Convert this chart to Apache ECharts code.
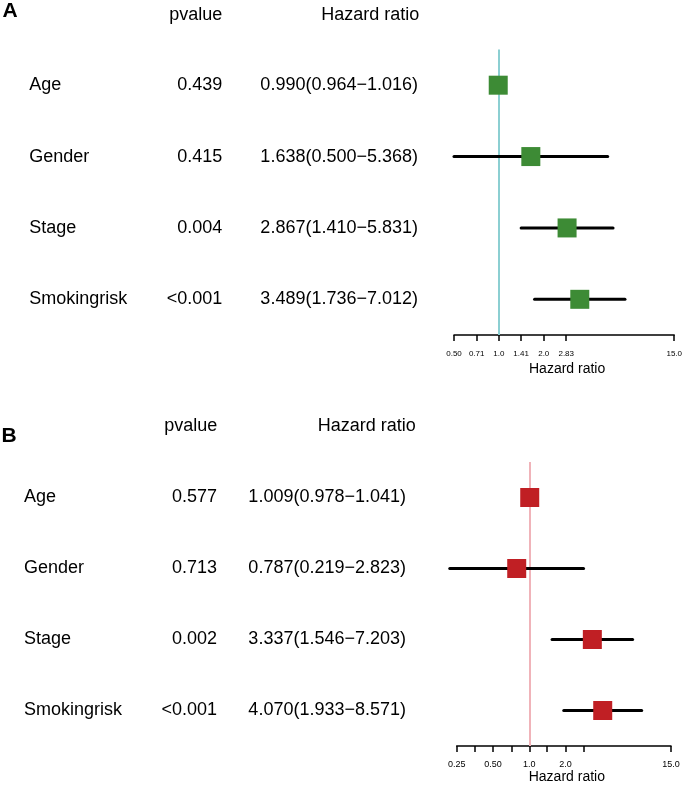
<!DOCTYPE html>
<html>
<head>
<meta charset="utf-8">
<script src="https://cdn.jsdelivr.net/npm/echarts@6/dist/echarts.min.js"></script>
<style>
html,body{margin:0;padding:0;background:#fff;}
#chart{width:685px;height:785px;}
</style>
</head>
<body>
<div id="chart"></div>
<script>
// ---- Data ----
const variables = ['Age', 'Gender', 'Stage', 'Smokingrisk'];

const pvalueA = ['0.439', '0.415', '0.004', '<0.001'];
const hrA     = [0.990, 1.638, 2.867, 3.489];
const lowerA  = [0.964, 0.500, 1.410, 1.736];
const upperA  = [1.016, 5.368, 5.831, 7.012];

const pvalueB = ['0.577', '0.713', '0.002', '<0.001'];
const hrB     = [1.009, 0.787, 3.337, 4.070];
const lowerB  = [0.978, 0.219, 1.546, 1.933];
const upperB  = [1.041, 2.823, 7.203, 8.571];

const tickValuesA  = [0.5, 0.71, 1, 1.41, 2, 2.83, 15];
const tickLabelsA  = ['0.50', '0.71', '1.0', '1.41', '2.0', '2.83', '15.0'];
const labelValuesA = [0.5, 0.71, 1, 1.41, 2, 2.83, 15];

const tickValuesB  = [0.25, 0.35, 0.5, 0.71, 1, 1.41, 2, 2.83, 15];
const labelValuesB = [0.25, 0.5, 1, 2, 15];
const tickLabelsB  = ['0.25', '0.50', '1.0', '2.0', '15.0'];

// ---- Helpers ----
const FONT = 'Liberation Sans, Arial, sans-serif';
const fmt3 = v => v.toFixed(3);
const hrText = (hr, lo, hi) => hr.map((h, i) => fmt3(h) + '(' + fmt3(lo[i]) + '\u2212' + fmt3(hi[i]) + ')');

function labelFormatter(values, labels) {
  return function (v) {
    let best = 0, d = Infinity;
    values.forEach((t, i) => { const dd = Math.abs(Math.log(t) - Math.log(v)); if (dd < d) { d = dd; best = i; } });
    return labels[best];
  };
}

const chart = echarts.init(document.getElementById('chart'), null, {renderer: 'canvas'});

const panels = [
  {
    grid: {left: 454, right: 9.5, top: 49.5, height: 285.5},
    min: 0.5, max: 15,
    ticks: tickValuesA, labelVals: labelValuesA, labels: tickLabelsA, tickFont: 8,
    hr: hrA, lo: lowerA, hi: upperA, p: pvalueA,
    nameX: 29.3, pRight: 222.3, hrRight: 418,
    color: '#3d8b35', refColor: '#8ccfd2',
    labelMargin: 15, nameGap: 27
  },
  {
    grid: {left: 456.7, right: 14, top: 462, height: 287.5},
    min: 0.25, max: 15,
    ticks: tickValuesB, labelVals: labelValuesB, labels: tickLabelsB, tickFont: 9,
    hr: hrB, lo: lowerB, hi: upperB, p: pvalueB,
    nameX: 24, pRight: 217, hrRight: 406,
    color: '#c01f24', refColor: '#f0b3b9',
    labelMargin: 14, nameGap: 24
  }
];

const grids = [], xAxes = [], yAxes = [], series = [];

panels.forEach((P, g) => {
  grids.push(Object.assign({containLabel: false}, P.grid));
  xAxes.push({
    gridIndex: g, type: 'log', logBase: 2, min: P.min, max: P.max,
    axisLine: {show: true, onZero: false, lineStyle: {color: '#000', width: 1.5}},
    axisTick: {show: true, customValues: P.ticks, length: 6, lineStyle: {color: '#000', width: 1.5}},
    axisLabel: {show: true, customValues: P.labelVals, formatter: labelFormatter(P.labelVals, P.labels),
      fontSize: P.tickFont, color: '#000', fontFamily: FONT, margin: P.labelMargin, hideOverlap: false},
    splitLine: {show: false},
    minorTick: {show: false},
    name: 'Hazard ratio', nameLocation: 'middle', nameGap: P.nameGap,
    nameTextStyle: {fontSize: 14, color: '#000', fontFamily: FONT, padding: [0, 0, 0, 6]}
  });
  const base = yAxes.length;
  const hidden = {axisLine: {show: false}, axisTick: {show: false}, splitLine: {show: false}};
  // main y axis (for marks)
  yAxes.push(Object.assign({gridIndex: g, type: 'category', data: variables, inverse: true,
    axisLabel: {show: false}}, hidden));
  // variable names column
  yAxes.push(Object.assign({gridIndex: g, type: 'category', data: variables, inverse: true, position: 'left',
    axisLabel: {show: true, interval: 0, align: 'left', margin: P.grid.left - P.nameX,
      fontSize: 18, color: '#000', fontFamily: FONT}}, hidden));
  // p-value column
  yAxes.push(Object.assign({gridIndex: g, type: 'category', data: P.p, inverse: true, position: 'left',
    axisLabel: {show: true, interval: 0, align: 'right', margin: P.grid.left - P.pRight,
      fontSize: 18, color: '#000', fontFamily: FONT}}, hidden));
  // hazard ratio column
  yAxes.push(Object.assign({gridIndex: g, type: 'category', data: hrText(P.hr, P.lo, P.hi), inverse: true, position: 'left',
    axisLabel: {show: true, interval: 0, align: 'right', margin: P.grid.left - P.hrRight,
      fontSize: 18, color: '#000', fontFamily: FONT}}, hidden));

  // reference line at HR = 1 (drawn beneath the marks)
  series.push({
    type: 'line', xAxisIndex: g, yAxisIndex: base, data: [], z: 1, silent: true,
    markLine: {silent: true, z: 1, symbol: 'none', label: {show: false},
      lineStyle: {color: P.refColor, width: 2, type: 'solid'}, data: [{xAxis: 1}]}
  });
  // confidence intervals
  series.push({
    type: 'custom', xAxisIndex: g, yAxisIndex: base, z: 2, silent: true, clip: false,
    encode: {x: [0, 1], y: 2},
    data: variables.map((v, i) => [P.lo[i], P.hi[i], i]),
    renderItem: function (params, api) {
      const a = api.coord([api.value(0), api.value(2)]);
      const b = api.coord([api.value(1), api.value(2)]);
      return {type: 'line', shape: {x1: a[0], y1: a[1], x2: b[0], y2: b[1]},
        style: {stroke: '#000', lineWidth: 3, lineCap: 'round'}};
    }
  });
  // point estimates
  series.push({
    type: 'scatter', xAxisIndex: g, yAxisIndex: base, z: 3, silent: true,
    symbol: 'rect', symbolSize: 19,
    itemStyle: {color: P.color, opacity: 1},
    data: variables.map((v, i) => [P.hr[i], i])
  });
});

const headerStyle = (text, x, y) => ({type: 'text', x: x, y: y,
  style: {text: text, font: '18px ' + FONT, fill: '#000', textAlign: 'right', textVerticalAlign: 'middle'}});

const option = {
  animation: false,
  backgroundColor: '#fff',
  grid: grids,
  xAxis: xAxes,
  yAxis: yAxes,
  series: series,
  graphic: [
    {type: 'text', x: 2.5, y: 11, style: {text: 'A', font: 'bold 21px ' + FONT, fill: '#000', textAlign: 'left', textVerticalAlign: 'middle'}},
    {type: 'text', x: 1.5, y: 436.5, style: {text: 'B', font: 'bold 21px ' + FONT, fill: '#000', textAlign: 'left', textVerticalAlign: 'middle'}},
    headerStyle('pvalue', 222.3, 15),
    headerStyle('Hazard ratio', 419.3, 15),
    headerStyle('pvalue', 217.3, 426.5),
    headerStyle('Hazard ratio', 415.7, 426.5)
  ]
};
chart.setOption(option);
</script>
</body>
</html>
